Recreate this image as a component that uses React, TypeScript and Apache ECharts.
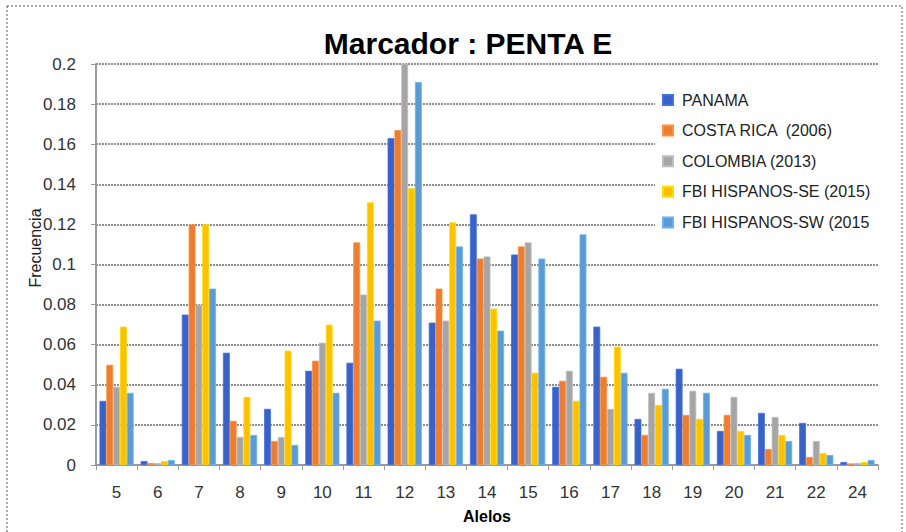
import React, { useEffect, useRef } from "react";
import * as echarts from "echarts";

const categories = ["5", "6", "7", "8", "9", "10", "11", "12", "13", "14", "15", "16", "17", "18", "19", "20", "21", "22", "24"];
const seriesNames = ["PANAMA", "COSTA RICA  (2006)", "COLOMBIA (2013)", "FBI HISPANOS-SE (2015)", "FBI HISPANOS-SW (2015"];
const panama = [0.032, 0.002, 0.075, 0.056, 0.028, 0.047, 0.051, 0.163, 0.071, 0.125, 0.105, 0.039, 0.069, 0.023, 0.048, 0.017, 0.026, 0.021, 0.0015];
const costaRica = [0.050, 0.001, 0.120, 0.022, 0.012, 0.052, 0.111, 0.167, 0.088, 0.103, 0.109, 0.042, 0.044, 0.015, 0.025, 0.025, 0.008, 0.004, 0.0008];
const colombia = [0.039, 0.001, 0.080, 0.014, 0.014, 0.061, 0.085, 0.210, 0.072, 0.104, 0.111, 0.047, 0.028, 0.036, 0.037, 0.034, 0.024, 0.012, 0.001];
const fbiSE = [0.069, 0.002, 0.120, 0.034, 0.057, 0.070, 0.131, 0.138, 0.121, 0.078, 0.046, 0.032, 0.059, 0.030, 0.023, 0.017, 0.015, 0.006, 0.0015];
const fbiSW = [0.036, 0.0025, 0.088, 0.015, 0.010, 0.036, 0.072, 0.191, 0.109, 0.067, 0.103, 0.115, 0.046, 0.038, 0.036, 0.015, 0.012, 0.005, 0.0025];
const colors = ["#3A62C6", "#ED7D31", "#A5A5A5", "#FFC000", "#5B9BD5"];

export default function App() {
  const ref = useRef<HTMLDivElement>(null);
  useEffect(() => {
    if (!ref.current) return;
    const chart = echarts.init(ref.current, null, { renderer: "svg" });
    const data = [panama, costaRica, colombia, fbiSE, fbiSW];
    chart.setOption({
      animation: false,
      backgroundColor: "#ffffff",
      textStyle: { fontFamily: "Liberation Sans" },
      title: {
        text: "Marcador : PENTA E",
        left: 463,
        textAlign: "center",
        top: 23,
        textStyle: { fontSize: 30, fontWeight: "bold", color: "#000", fontFamily: "Liberation Sans" },
      },
      legend: {
        orient: "vertical",
        left: 655,
        top: 83,
        padding: [8, 20, 8, 7],
        backgroundColor: "#ffffff",
        icon: "rect",
        itemWidth: 10,
        itemHeight: 10,
        itemGap: 12.6,
        textStyle: { fontSize: 16, color: "#222", lineHeight: 18, padding: [0, 0, 0, 4] },
        data: seriesNames,
      },
      grid: { left: 96, right: 28, top: 64, bottom: 67, containLabel: false },
      xAxis: {
        type: "category",
        data: categories,
        name: "Alelos",
        nameLocation: "middle",
        nameGap: 43,
        nameTextStyle: { fontSize: 16, fontWeight: "bold", color: "#000" },
        axisLine: { lineStyle: { color: "#9a9a9a", width: 2 } },
        axisTick: { show: true, length: 5, lineStyle: { color: "#9a9a9a" } },
        axisLabel: { fontSize: 17, color: "#333", margin: 19 },
      },
      yAxis: {
        type: "value",
        min: 0,
        max: 0.2,
        interval: 0.02,
        axisLine: { show: true, lineStyle: { color: "#9a9a9a", width: 2 } },
        axisTick: { show: true, length: 5, lineStyle: { color: "#9a9a9a" } },
        axisLabel: { fontSize: 17, color: "#333", margin: 20 },
        splitLine: { lineStyle: { color: "#8f8f8f", width: 2, type: [2, 1] } },
      },
      graphic: [
        {
          type: "rect",
          shape: { x: 7, y: 6, width: 895, height: 540 },
          style: { fill: "none", stroke: "#555", lineWidth: 1, lineDash: [2, 2] },
          silent: true,
        },
        {
          type: "text",
          x: 35,
          y: 248,
          rotation: Math.PI / 2,
          style: { text: "Frecuencia", fontSize: 16, fill: "#222", align: "center", verticalAlign: "middle", fontFamily: "Liberation Sans" },
        },
      ],
      series: seriesNames.map((name, i) => ({
        name,
        type: "bar",
        data: data[i],
        barGap: "0%",
        barCategoryGap: "17%",
        clip: true,
        itemStyle: { color: colors[i], borderColor: echarts.color.lift(colors[i], -0.15), borderWidth: 0.8 },
      })),
    });
    return () => chart.dispose();
  }, []);
  return <div ref={ref} style={{ position: "fixed", left: 0, top: 0, width: 906, height: 532 }} />;
}
